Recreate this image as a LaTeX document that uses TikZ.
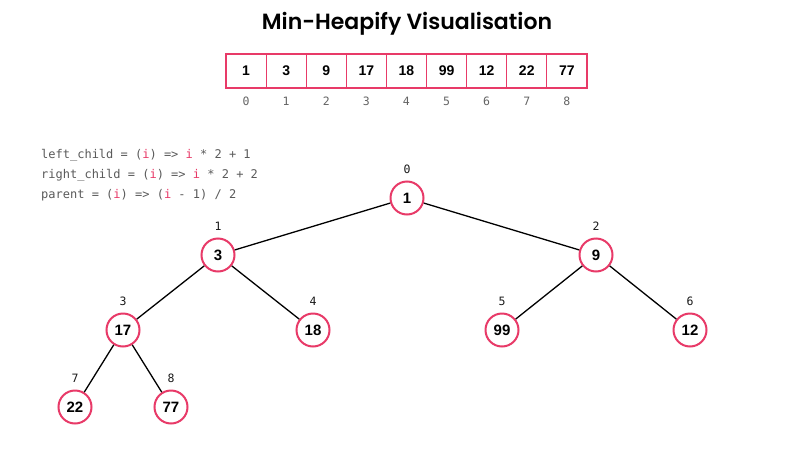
\documentclass[tikz,border=0pt]{standalone}
\usepackage{fontspec}
\setmainfont{Liberation Sans}
\setmonofont{DejaVu Sans Mono}
\newfontfamily\titlefont{Poppins}[UprightFont=* SemiBold, BoldFont=* Bold]
\definecolor{heappink}{RGB}{232,58,104}
\definecolor{codegray}{RGB}{90,90,90}
\definecolor{idxgray}{RGB}{100,100,100}
\begin{document}
\begin{tikzpicture}[x=1pt,y=-1pt,
  cell/.style={draw=heappink,line width=1.2pt,minimum width=40.1pt,minimum height=34pt,inner sep=0pt,font=\fontsize{14}{14}\selectfont\bfseries,text=black},
  cellidx/.style={font=\fontsize{11.5}{11.5}\selectfont\ttfamily,text=idxgray},
  heapnode/.style={circle,draw=heappink,line width=2pt,minimum size=33pt,inner sep=0pt,fill=white,font=\fontsize{15}{15}\selectfont\bfseries},
  nodeidx/.style={font=\fontsize{11.5}{11.5}\selectfont\ttfamily,text=black!90},
  edge/.style={draw=black,line width=1.3pt},
  code/.style={anchor=west,font=\fontsize{12}{12}\selectfont\ttfamily,text=codegray,inner sep=0pt}
]
\useasboundingbox[fill=white] (0,0) rectangle (800,450);
\node[font=\titlefont\fontsize{22}{22}\selectfont] (title) at (407,24) {Min-Heapify Visualisation};
% array
\foreach \v [count=\k from 0] in {1,3,9,17,18,99,12,22,77}{
  \node[cell] (c\k) at ({226+20.05+40.1*\k},71) {\v};
  \node[cellidx] (ci\k) at ({226+20.05+40.1*\k},101) {\k};
}
% code
\node[code] (l1) at (41,155) {left\_child = (\textcolor{heappink}{i}) => \textcolor{heappink}{i} * 2 + 1};
\node[code] (l2) at (41,175) {right\_child = (\textcolor{heappink}{i}) => \textcolor{heappink}{i} * 2 + 2};
\node[code] (l3) at (41,195) {parent = (\textcolor{heappink}{i}) => (\textcolor{heappink}{i} - 1) / 2};
% tree nodes
\node[heapnode] (n0) at (407,198) {1};
\node[heapnode] (n1) at (218,255) {3};
\node[heapnode] (n2) at (596,255) {9};
\node[heapnode] (n3) at (123,330) {17};
\node[heapnode] (n4) at (313,330) {18};
\node[heapnode] (n5) at (502,330) {99};
\node[heapnode] (n6) at (690,330) {12};
\node[heapnode] (n7) at (75,407) {22};
\node[heapnode] (n8) at (171,407) {77};
\foreach \k in {0,...,8}{
  \node[nodeidx,above=3pt] (t\k) at (n\k.north) {\k};
}
\draw[edge] (n0) -- (n1);
\draw[edge] (n0) -- (n2);
\draw[edge] (n1) -- (n3);
\draw[edge] (n1) -- (n4);
\draw[edge] (n2) -- (n5);
\draw[edge] (n2) -- (n6);
\draw[edge] (n3) -- (n7);
\draw[edge] (n3) -- (n8);
\end{tikzpicture}
\end{document}
